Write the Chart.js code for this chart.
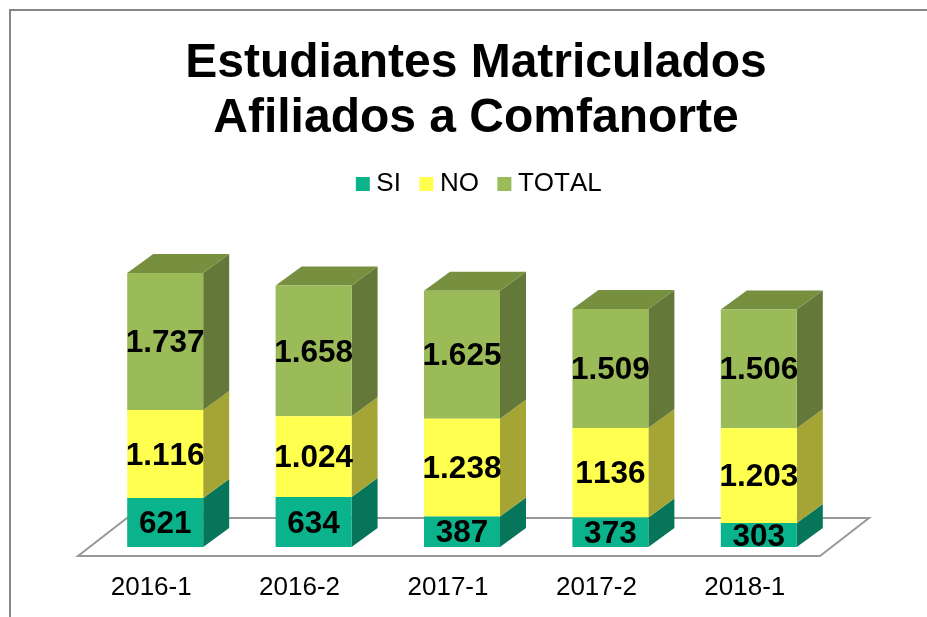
<!DOCTYPE html>
<html>
<head>
<meta charset="utf-8">
<title>Estudiantes Matriculados</title>
<script src="https://cdn.jsdelivr.net/npm/chart.js@4"></script>
<style>
html,body{margin:0;padding:0;background:#fff;overflow:hidden}
#wrap{width:927px;height:617px;position:relative}
</style>
</head>
<body>
<div id="wrap"><canvas id="chart"></canvas></div>
<script>
// values
const categories = ['2016-1','2016-2','2017-1','2017-2','2018-1'];
const si = [621,634,387,373,303];
const no = [1116,1024,1238,1136,1203];
const total = [1737,1658,1625,1509,1506];
// text shown on the bars (the 1136 has no dot in the original)
const siText = ['621','634','387','373','303'];
const noText = ['1.116','1.024','1.238','1136','1.203'];
const totalText = ['1.737','1.658','1.625','1.509','1.506'];

const FONT = '"Liberation Sans", Arial, sans-serif';
const DEPTH_X = 26, DEPTH_Y = 19;
const faces = [
	{front:'#0AB38B', side:'#07755A', top:'#07755A', text:siText},
	{front:'#FFFF4F', side:'#A5A535', top:'#A5A535', text:noText},
	{front:'#9BBB59', side:'#64783A', top:'#76903F', text:totalText}
];

// frame, floor and the side/top faces of the bars
const box3d = {
	id:'box3d',
	beforeLayout(chart){
		chart.ctx.fontKerning = 'none';
	},
	afterLayout(chart){
		chart.titleBlock.left += 14; chart.titleBlock.right += 14;
		chart.legend.left += 20; chart.legend.right += 20;
	},
	beforeDraw(chart){
		const c = chart.ctx;
		c.save();
		c.strokeStyle = '#868686'; c.lineWidth = 2;
		c.beginPath();
		c.moveTo(10,617); c.lineTo(10,10); c.lineTo(927,10);
		c.stroke();
		c.restore();
	},
	beforeDatasetsDraw(chart){
		const c = chart.ctx, a = chart.chartArea;
		c.save();
		// floor
		const fl = a.left-13, fr = a.right-13, fy = a.bottom+9;
		c.strokeStyle = '#999999'; c.lineWidth = 2;
		c.beginPath();
		c.moveTo(fl,fy); c.lineTo(fr,fy); c.lineTo(fr+49,fy-38); c.lineTo(fl+49,fy-38);
		c.closePath();
		c.stroke();
		faces.forEach(function(f,d){
			chart.getDatasetMeta(d).data.forEach(function(bar){
				const r = bar.x+bar.width/2, t = Math.min(bar.y,bar.base), b = Math.max(bar.y,bar.base);
				c.fillStyle = f.side;
				c.beginPath();
				c.moveTo(r,b); c.lineTo(r+DEPTH_X,b-DEPTH_Y); c.lineTo(r+DEPTH_X,t-DEPTH_Y); c.lineTo(r,t);
				c.closePath(); c.fill();
				if(d==faces.length-1){
					const l = bar.x-bar.width/2;
					c.fillStyle = f.top;
					c.beginPath();
					c.moveTo(l,t); c.lineTo(l+DEPTH_X,t-DEPTH_Y); c.lineTo(r+DEPTH_X,t-DEPTH_Y); c.lineTo(r,t);
					c.closePath(); c.fill();
				}
			});
		});
		c.restore();
	},
	afterDatasetsDraw(chart){
		const c = chart.ctx;
		c.save();
		c.font = 'bold 31.5px '+FONT;
		c.fillStyle = '#000';
		c.textAlign = 'center';
		c.textBaseline = 'middle';
		faces.forEach(function(f,d){
			chart.getDatasetMeta(d).data.forEach(function(bar,i){
				c.fillText(f.text[i],bar.x,(bar.y+bar.base)/2+2);
			});
		});
		c.restore();
	}
};

new Chart(document.getElementById('chart'),{
	type:'bar',
	data:{
		labels:categories,
		datasets:[
			{label:'SI',data:si,backgroundColor:faces[0].front},
			{label:'NO',data:no,backgroundColor:faces[1].front},
			{label:'TOTAL',data:total,backgroundColor:faces[2].front}
		]
	},
	options:{
		responsive:true,
		maintainAspectRatio:false,
		animation:false,
		layout:{padding:{left:91,right:94,top:0,bottom:0}},
		barPercentage:0.512,
		categoryPercentage:1,
		plugins:{
			title:{
				display:true,
				text:['Estudiantes Matriculados','Afiliados a Comfanorte'],
				color:'#000',
				font:{family:FONT,size:48,weight:'bold',lineHeight:1.146},
				padding:{top:36,bottom:0}
			},
			legend:{
				position:'top',
				labels:{
					usePointStyle:true,
					pointStyle:'rect',
					boxWidth:1,
					boxHeight:14,
					padding:25,
					color:'#000',
					font:{family:FONT,size:26}
				}
			},
			tooltip:{enabled:false}
		},
		scales:{
			x:{
				stacked:true,
				grid:{display:false,drawTicks:false},
				border:{display:false},
				afterFit(s){s.height=70},
				ticks:{color:'#000',padding:25,labelOffset:-14,maxRotation:0,autoSkip:false,font:{family:FONT,size:26}}
			},
			y:{
				stacked:true,
				display:false,
				min:0,
				max:4310
			}
		}
	},
	plugins:[box3d]
});
</script>
</body>
</html>
